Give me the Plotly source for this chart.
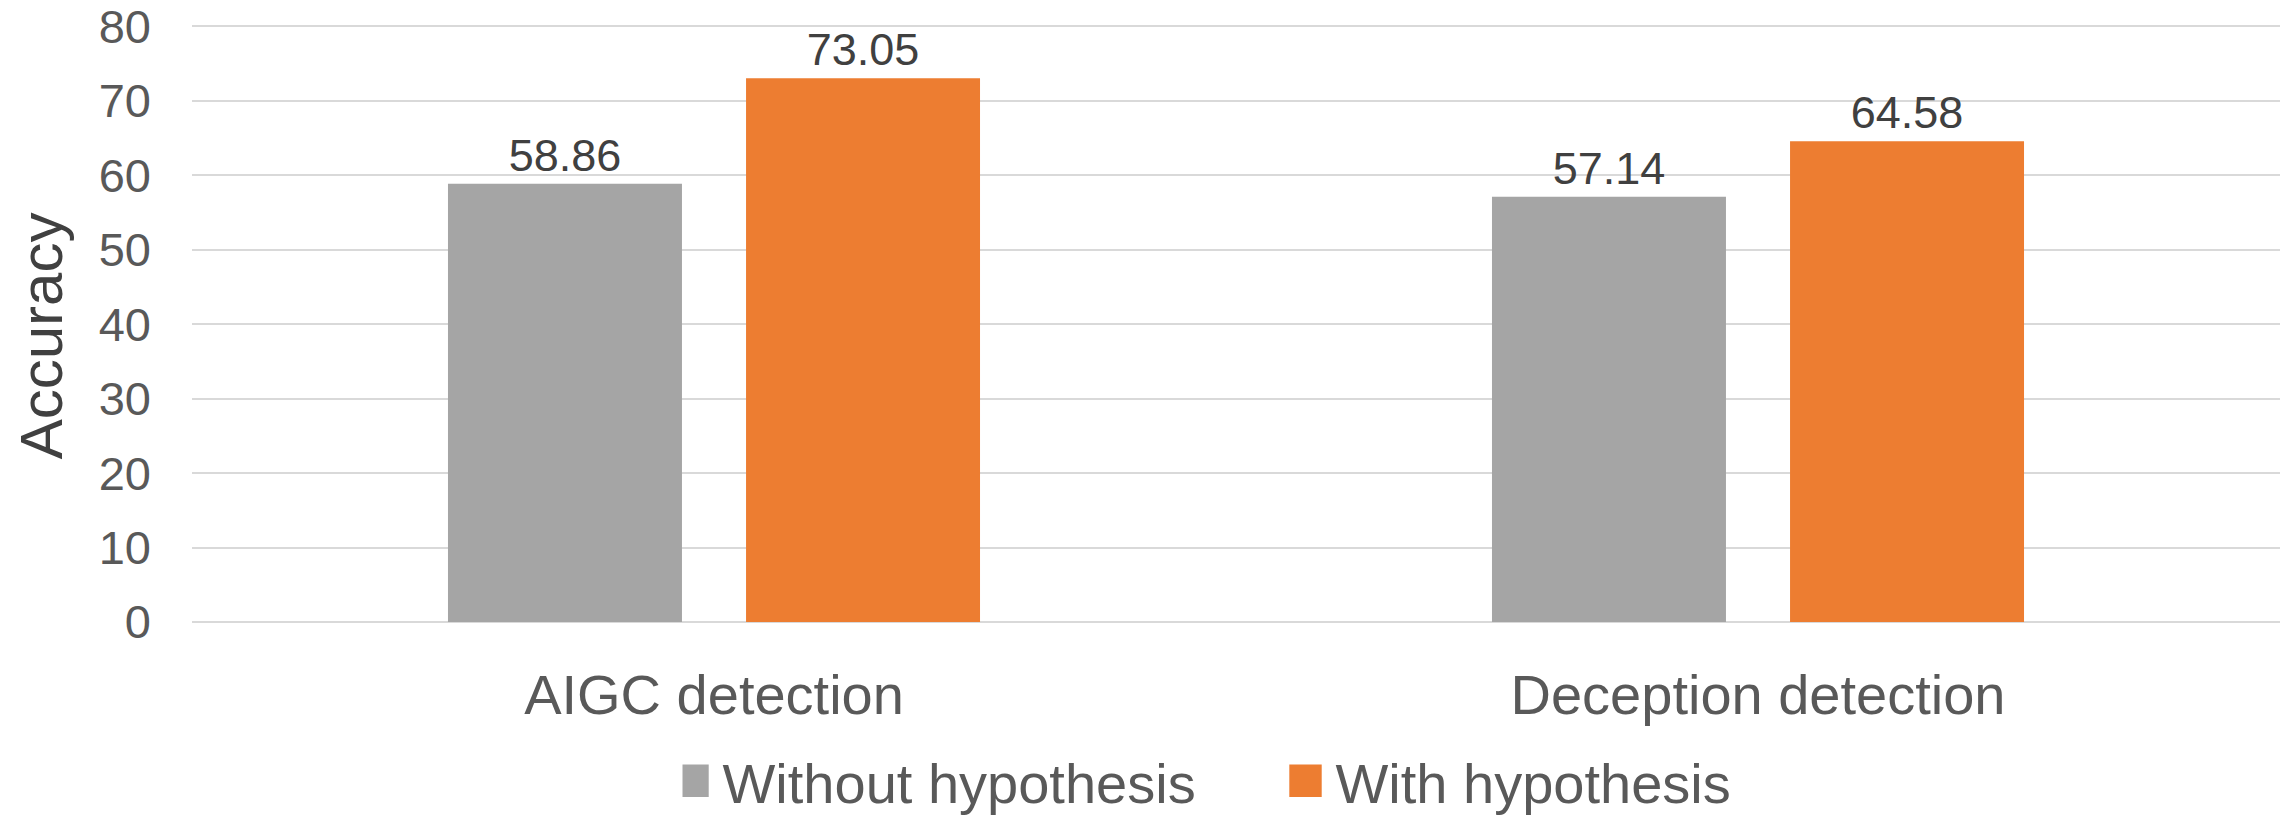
import plotly.graph_objects as go

categories = ["AIGC detection", "Deception detection"]
series_names = ["Without hypothesis", "With hypothesis"]
without_vals = [58.86, 57.14]
with_vals = [73.05, 64.58]
colors = ["#A5A5A5", "#ED7D31"]
y_ticks = [0, 10, 20, 30, 40, 50, 60, 70, 80]

FONT = "Liberation Sans, Arial, sans-serif"

fig = go.Figure()
for name, vals, col in zip(series_names, [without_vals, with_vals], colors):
    fig.add_trace(go.Bar(
        x=categories, y=vals, name=name, marker=dict(color=col, line=dict(width=0)),
        text=[f"{v:.2f}" for v in vals], textposition="outside", cliponaxis=False,
        textfont=dict(family=FONT, size=45, color="#404040"),
    ))

fig.update_layout(
    width=2292, height=820,
    margin=dict(l=192, r=12, t=24.5, b=198, autoexpand=False),
    paper_bgcolor="white", plot_bgcolor="white",
    barmode="group", bargap=0.429, bargroupgap=0.215,
    font=dict(family=FONT, color="#595959"),
    showlegend=True,
    legend=dict(orientation="h", x=0.5285, xanchor="center", y=-0.266, yanchor="middle",
                font=dict(family=FONT, size=56, color="#595959"), entrywidth=568,
                borderwidth=0, bgcolor="rgba(0,0,0,0)"),
    xaxis=dict(showgrid=False, showline=False, ticks="", ticklabelstandoff=35,
               automargin=False,
               tickfont=dict(family=FONT, size=56, color="#595959")),
    yaxis=dict(range=[0, 80.2], tickvals=y_ticks, showgrid=True, gridcolor="#D9D9D9", gridwidth=2,
               zeroline=True, zerolinecolor="#D9D9D9", zerolinewidth=2, showline=False,
               ticks="", ticklabelstandoff=40, automargin=False, ticklabeloverflow="allow",
               tickfont=dict(family=FONT, size=47, color="#595959")),
    annotations=[dict(text="Accuracy", textangle=-90, xref="paper", yref="paper",
                      x=-0.0719, y=0.48, xanchor="center", yanchor="middle", showarrow=False,
                      font=dict(family=FONT, size=60, color="#404040"))],
)

post = """
document.body.style.margin = '0';
document.body.style.padding = '0';
function bigSymbols(){
  document.querySelectorAll('.legendpoints path').forEach(function(p){
    if (p.getAttribute('data-orig-tf') === null) {
      p.setAttribute('data-orig-tf', p.getAttribute('transform') || '');
    }
    p.setAttribute('transform', p.getAttribute('data-orig-tf') + ' translate(-10,0) scale(2.7)');
  });
}
bigSymbols();
setTimeout(bigSymbols, 300);
setTimeout(bigSymbols, 1000);
"""
fig.write_html("out.html", post_script=post, config={"displayModeBar": False})
